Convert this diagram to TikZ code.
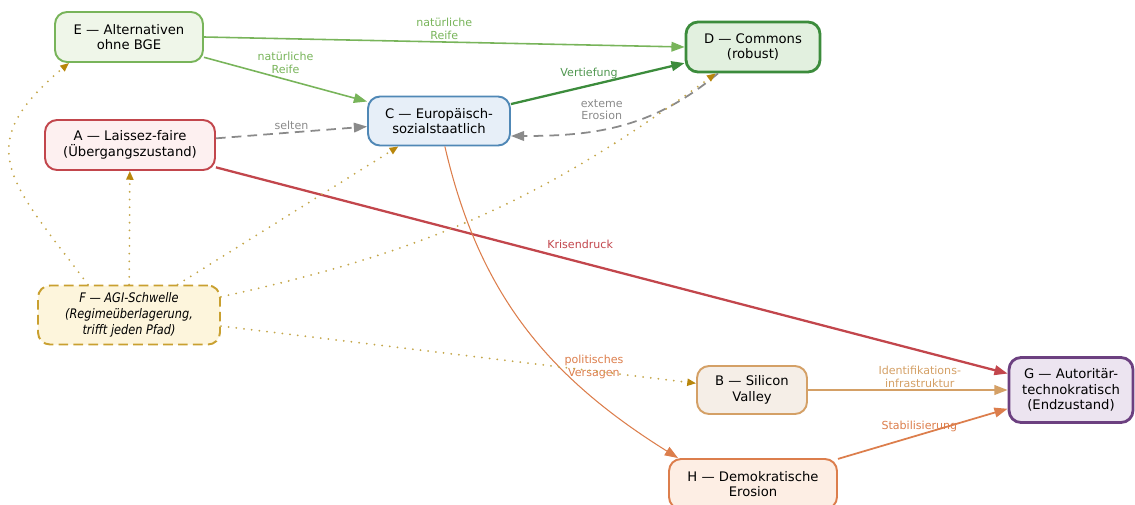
\documentclass[tikz,border=0pt]{standalone}
\usepackage{fontspec}
\setmainfont{DejaVu Sans}
\newfontfamily\agifont[FakeStretch=0.86]{DejaVu Sans}
\usetikzlibrary{arrows.meta}

\definecolor{egreen}{HTML}{78B45A}
\definecolor{efill}{HTML}{EFF6E9}
\definecolor{dgreen}{HTML}{3C8C3C}
\definecolor{dfill}{HTML}{E2F0DF}
\definecolor{cblue}{HTML}{5088B6}
\definecolor{cfill}{HTML}{E7EFF8}
\definecolor{ared}{HTML}{C2464C}
\definecolor{afill}{HTML}{FDF0F0}
\definecolor{fgold}{HTML}{C9A030}
\definecolor{ffill}{HTML}{FDF5DC}
\definecolor{btan}{HTML}{D4A066}
\definecolor{bfill}{HTML}{F5EEE7}
\definecolor{horange}{HTML}{DC7E4C}
\definecolor{hfill}{HTML}{FDEEE4}
\definecolor{gpurple}{HTML}{6C4080}
\definecolor{gfill}{HTML}{ECE4F0}
\definecolor{erosgray}{HTML}{8A8A8A}
\definecolor{dotgold}{HTML}{C4A649}
\definecolor{tipgold}{HTML}{B8860B}

\tikzset{
    state/.style={draw, rounded corners=0.24cm, align=center, inner sep=0pt,
        font=\fontsize{7.5}{9}\selectfont, line width=1.1pt},
    edgetext/.style={font=\fontsize{6.3}{7.3}\selectfont, align=center, inner sep=1pt},
    tip/.style={-{Triangle[length=7.5pt,width=5.5pt]}},
    smalltip/.style={-{Triangle[length=5pt,width=4pt,color=tipgold]}},
    agi/.style={dotgold, line width=1.15pt, line cap=round, dash pattern=on 0pt off 4.4pt, smalltip},
}

\begin{document}
\begin{tikzpicture}[x=0.02cm,y=0.02cm]
    \useasboundingbox (0,0) rectangle (1135,-504);
    % states
    \node[state, draw=egreen, fill=efill, minimum width=2.96cm, minimum height=1cm] (E) at (129,-37) {E — Alternativen\\ohne BGE};
    \node[state, draw=dgreen, fill=dfill, line width=1.6pt, minimum width=2.68cm, minimum height=1cm] (D) at (753,-47) {D — Commons\\(robust)};
    \node[state, draw=cblue, fill=cfill, minimum width=2.84cm, minimum height=0.98cm] (C) at (439,-121) {C — Europäisch-\\sozialstaatlich};
    \node[state, draw=ared, fill=afill, minimum width=3.4cm, minimum height=1cm] (A) at (130,-145) {A — Laissez-faire\\(Übergangszustand)};
    \node[state, draw=fgold, fill=ffill, dash pattern=on 5.5pt off 3pt, minimum width=3.64cm, minimum height=1.18cm, font=\agifont\fontsize{7.5}{9.2}\selectfont\itshape] (F) at (129,-315) {F — AGI-Schwelle\\(Regimeüberlagerung,\\trifft jeden Pfad)};
    \node[state, draw=btan, fill=bfill, minimum width=2.2cm, minimum height=0.96cm] (B) at (752,-390) {B — Silicon\\Valley};
    \node[state, draw=gpurple, fill=gfill, line width=1.6pt, minimum width=2.48cm, minimum height=1.3cm] (G) at (1071,-390) {G — Autoritär-\\technokratisch\\(Endzustand)};
    \node[state, draw=horange, fill=hfill, minimum width=3.36cm, minimum height=1cm] (H) at (753,-484) {H — Demokratische\\Erosion};

    % transitions
    \draw[tip, egreen, line width=0.9pt] (E.east) -- node[edgetext, above, text=egreen] {natürliche\\Reife} (D.west);
    \draw[tip, egreen, line width=0.9pt] (E) -- node[edgetext, above=2pt, text=egreen] {natürliche\\Reife} (C);
    \draw[tip, dgreen, line width=1.3pt] (C) -- node[edgetext, above=2pt, pos=0.45, text=dgreen!90] {Vertiefung} (D);
    \draw[tip, erosgray, line width=1pt, dash pattern=on 5.5pt off 3.5pt] (A) -- node[edgetext, above, text=erosgray] {selten} (C);
    \draw[tip, erosgray, line width=1pt, dash pattern=on 5.5pt off 3.5pt] ([xshift=-0.7cm]D.south) to[out=220, in=0] node[edgetext, above=4pt, pos=0.6, text=erosgray] {exteme\\Erosion} ([yshift=-0.3cm]C.east);
    \draw[tip, ared, line width=1.3pt] (A) -- node[edgetext, above=6pt, pos=0.46, text=ared] {Krisendruck} (G);
    \draw[tip, horange, line width=0.6pt] (C) to[out=283, in=148] node[edgetext, right=1pt, pos=0.64, text=horange] {politisches\\Versagen} ([xshift=-1.5cm]H.north);
    \draw[tip, btan, line width=1pt] (B) -- node[edgetext, above, pos=0.56, text=btan] {Identifikations-\\infrastruktur} (G);
    \draw[tip, horange, line width=1pt] (H) -- node[edgetext, above, pos=0.48, text=horange] {Stabilisierung} (G);

    % AGI threshold hits every path
    \draw[agi] ([xshift=-0.82cm]F.north) to[out=127, in=220, looseness=1.5] ([xshift=-1.2cm]E.south);
    \draw[agi] (F) -- (A);
    \draw[agi] (F) -- (C);
    \draw[agi] (F) to[bend right=12] (D);
    \draw[agi] (F) -- (B);
\end{tikzpicture}
\end{document}
